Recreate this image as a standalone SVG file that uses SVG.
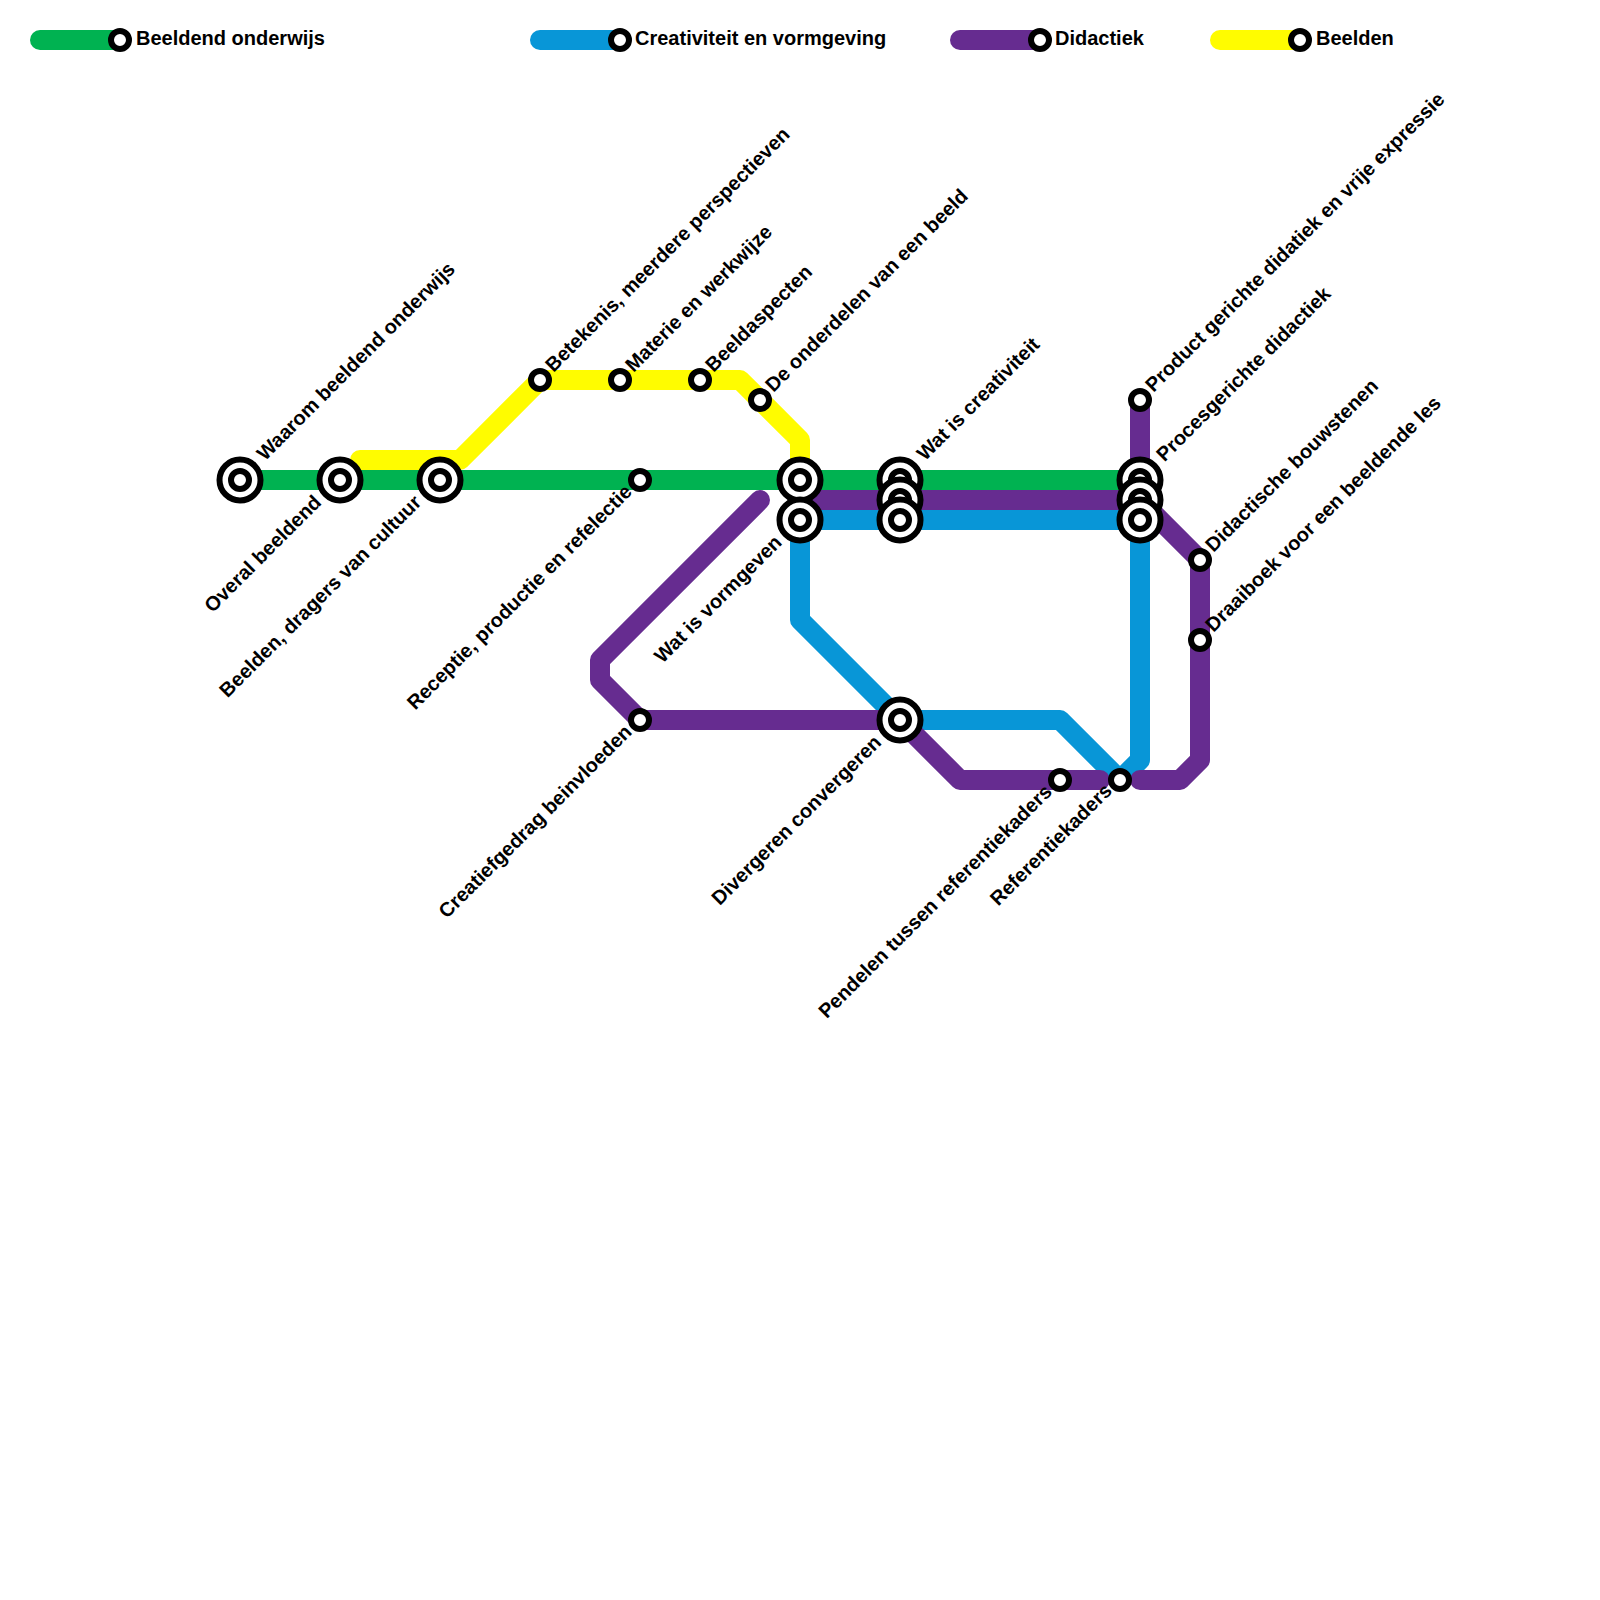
<svg xmlns="http://www.w3.org/2000/svg" width="1600" height="1600" viewBox="0 0 1600 1600">
<style>
.bg{fill:#fff}
.l{fill:none;stroke-width:20;stroke-linecap:round;stroke-linejoin:round}
.g{stroke:#00b251}.b{stroke:#0896d7}.p{stroke:#662c90}.y{stroke:#fffc00}
.o{fill:#fff;stroke:#000;stroke-width:6}
text{font-family:"Liberation Sans",Arial,sans-serif;font-weight:700;font-size:20px;fill:#000}
.e{text-anchor:end}
</style>
<defs>
<g id="st"><circle class="o" r="9"/></g>
<g id="ic"><circle class="o" r="20.5"/><circle class="o" r="9"/></g>
</defs>
<rect class="bg" width="1600" height="1600"/>
<g id="connectors">
<path class="l g" d="M40 40H120"/>
<path class="l b" d="M540 40H620"/>
<path class="l p" d="M960 40H1040"/>
<path class="l y" d="M1220 40H1300"/>
<path class="l y" d="M360 460H460L540 380H740L800 440V480"/>
<path class="l g" d="M240 480H1140"/>
<path class="l b" d="M1120 780L1060 720H900L800 620V520H1140V760L1120 780"/>
<path class="l p" d="M760 500L600 660V680L640 720H900L960 780H1100"/>
<path class="l p" d="M800 500H1140"/>
<path class="l p" d="M1140 400V500L1200 560V760L1180 780H1140"/>
</g>
<g id="legend-green"><use href="#st" x="120" y="40"/><text x="136" y="45">Beeldend onderwijs</text></g>
<g id="legend-blue"><use href="#st" x="620" y="40"/><text x="635" y="45">Creativiteit en vormgeving</text></g>
<g id="legend-purple"><use href="#st" x="1040" y="40"/><text x="1055" y="45">Didactiek</text></g>
<g id="legend-yellow"><use href="#st" x="1300" y="40"/><text x="1316" y="45">Beelden</text></g>
<g id="n-waarom"><use href="#ic" x="240" y="480"/><text transform="translate(265 461.5) rotate(-45)">Waarom beeldend onderwijs</text></g>
<g id="n-overal"><use href="#ic" x="340" y="480"/><text class="e" transform="translate(322.5 503.5) rotate(-45)">Overal beeldend</text></g>
<g id="n-beelden"><use href="#ic" x="440" y="480"/><text class="e" transform="translate(422.5 503.5) rotate(-45)">Beelden, dragers van cultuur</text></g>
<g id="n-receptie"><use href="#st" x="640" y="480"/><text class="e" transform="translate(633 493) rotate(-45)">Receptie, productie en refelectie</text></g>
<g id="n-betekenis"><use href="#st" x="540" y="380"/><text transform="translate(553.5 373) rotate(-45)">Betekenis, meerdere perspectieven</text></g>
<g id="n-materie"><use href="#st" x="620" y="380"/><text transform="translate(633.5 373) rotate(-45)">Materie en werkwijze</text></g>
<g id="n-beeldaspecten"><use href="#st" x="700" y="380"/><text transform="translate(713.5 373) rotate(-45)">Beeldaspecten</text></g>
<g id="n-onderdelen"><use href="#st" x="760" y="400"/><text transform="translate(773.5 393) rotate(-45)">De onderdelen van een beeld</text></g>
<g id="n-vormgeven"><text class="e" transform="translate(783 543.5) rotate(-45)">Wat is vormgeven</text></g>
<g id="n-creativiteit"><text transform="translate(925 461.5) rotate(-45)">Wat is creativiteit</text></g>
<g id="n-procesgericht"><text transform="translate(1164.5 462.5) rotate(-45)">Procesgerichte didactiek</text></g>
<g id="n-product"><use href="#st" x="1140" y="400"/><text transform="translate(1153.5 393) rotate(-45)">Product gerichte didatiek en vrije expressie</text></g>
<g id="n-didactische"><use href="#st" x="1200" y="560"/><text transform="translate(1213.5 553) rotate(-45)">Didactische bouwstenen</text></g>
<g id="n-draaiboek"><use href="#st" x="1200" y="640"/><text transform="translate(1213.5 633) rotate(-45)">Draaiboek voor een beeldende les</text></g>
<g id="n-creatiefgedrag"><use href="#st" x="640" y="720"/><text class="e" transform="translate(633 733) rotate(-45)">Creatiefgedrag beinvloeden</text></g>
<g id="n-divergeren"><use href="#ic" x="900" y="720"/><text class="e" transform="translate(882.5 743.5) rotate(-45)">Divergeren convergeren</text></g>
<g id="n-pendelen"><use href="#st" x="1060" y="780"/><text class="e" transform="translate(1053 793) rotate(-45)">Pendelen tussen referentiekaders</text></g>
<g id="n-referentiekaders"><use href="#st" x="1120" y="780"/><text class="e" transform="translate(1113 792) rotate(-45)">Referentiekaders</text></g>
<g id="interchanges">
<use href="#ic" x="800" y="480"/><use href="#ic" x="800" y="520"/>
<use href="#ic" x="900" y="480"/><use href="#ic" x="900" y="500"/><use href="#ic" x="900" y="520"/>
<use href="#ic" x="1140" y="480"/><use href="#ic" x="1140" y="500"/><use href="#ic" x="1140" y="520"/>
</g>
</svg>
